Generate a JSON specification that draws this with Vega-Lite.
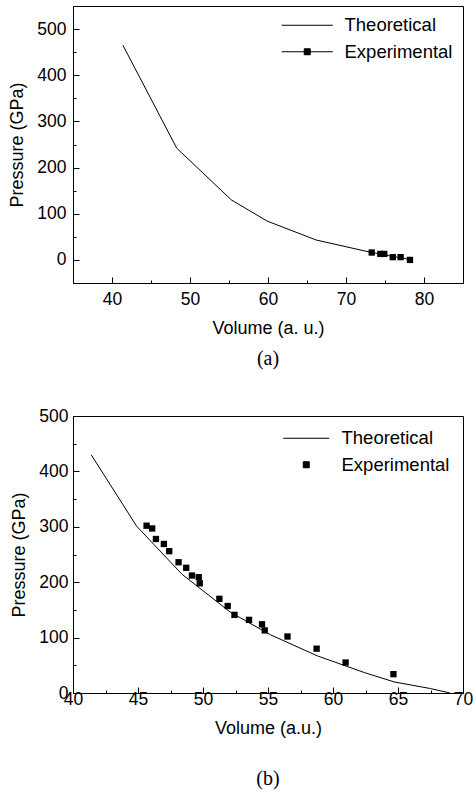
{
  "$schema": "https://vega.github.io/schema/vega-lite/v6.json",
  "padding": {"left": 8, "top": 5, "right": 5, "bottom": 5},
  "spacing": 37,
  "config": {
    "font": "Liberation Sans",
    "view": {"stroke": "black", "strokeWidth": 1},
    "axis": {
      "grid": false,
      "domainColor": "black",
      "tickColor": "black",
      "labelColor": "black",
      "titleColor": "black",
      "labelFont": "Liberation Sans",
      "titleFont": "Liberation Sans",
      "labelFontSize": 17.5,
      "titleFontSize": 18,
      "titleFontWeight": "normal",
      "labelFlush": false,
      "labelOverlap": false,
      "tickWidth": 1
    },
    "legend": {
      "labelFont": "Liberation Sans",
      "labelFontSize": 18.5,
      "labelColor": "black",
      "title": null
    }
  },
  "resolve": {"scale": {"color": "independent"}, "legend": {"color": "independent"}},
  "datasets": {
    "a": [
      {"volume": 41.4, "pressure": 465, "series": "Theoretical"},
      {"volume": 48.3, "pressure": 242, "series": "Theoretical"},
      {"volume": 55.3, "pressure": 130, "series": "Theoretical"},
      {"volume": 59.9, "pressure": 84, "series": "Theoretical"},
      {"volume": 66.2, "pressure": 43, "series": "Theoretical"},
      {"volume": 73.3, "pressure": 16, "series": "Theoretical"},
      {"volume": 73.3, "pressure": 16, "series": "Experimental"},
      {"volume": 74.4, "pressure": 13, "series": "Experimental"},
      {"volume": 74.9, "pressure": 13, "series": "Experimental"},
      {"volume": 76.0, "pressure": 6, "series": "Experimental"},
      {"volume": 77.0, "pressure": 6, "series": "Experimental"},
      {"volume": 78.2, "pressure": 0, "series": "Experimental"}
    ],
    "b": [
      {"volume": 41.4, "pressure": 430, "series": "Theoretical"},
      {"volume": 44.9, "pressure": 301, "series": "Theoretical"},
      {"volume": 48.4, "pressure": 214, "series": "Theoretical"},
      {"volume": 52.1, "pressure": 146, "series": "Theoretical"},
      {"volume": 55.2, "pressure": 105, "series": "Theoretical"},
      {"volume": 58.8, "pressure": 67, "series": "Theoretical"},
      {"volume": 62.4, "pressure": 37, "series": "Theoretical"},
      {"volume": 64.7, "pressure": 20, "series": "Theoretical"},
      {"volume": 67.5, "pressure": 8, "series": "Theoretical"},
      {"volume": 69.0, "pressure": 0, "series": "Theoretical"},
      {"volume": 45.66, "pressure": 302, "series": "Experimental"},
      {"volume": 46.09, "pressure": 297, "series": "Experimental"},
      {"volume": 46.38, "pressure": 278, "series": "Experimental"},
      {"volume": 46.99, "pressure": 269, "series": "Experimental"},
      {"volume": 47.40, "pressure": 256, "series": "Experimental"},
      {"volume": 48.12, "pressure": 236, "series": "Experimental"},
      {"volume": 48.71, "pressure": 226, "series": "Experimental"},
      {"volume": 49.15, "pressure": 212, "series": "Experimental"},
      {"volume": 49.67, "pressure": 209, "series": "Experimental"},
      {"volume": 49.75, "pressure": 198, "series": "Experimental"},
      {"volume": 51.26, "pressure": 170, "series": "Experimental"},
      {"volume": 51.90, "pressure": 157, "series": "Experimental"},
      {"volume": 52.42, "pressure": 141, "series": "Experimental"},
      {"volume": 53.54, "pressure": 132, "series": "Experimental"},
      {"volume": 54.54, "pressure": 124, "series": "Experimental"},
      {"volume": 54.75, "pressure": 113, "series": "Experimental"},
      {"volume": 56.50, "pressure": 102, "series": "Experimental"},
      {"volume": 58.74, "pressure": 80, "series": "Experimental"},
      {"volume": 60.97, "pressure": 55, "series": "Experimental"},
      {"volume": 64.65, "pressure": 34, "series": "Experimental"}
    ]
  },
  "vconcat": [
    {
      "width": 390,
      "height": 277,
      "title": {"text": "(a)", "orient": "bottom", "anchor": "middle", "font": "Liberation Serif", "fontSize": 20, "fontWeight": "normal", "color": "black", "offset": 11},
      "data": {"name": "a"},
      "encoding": {
        "x": {
          "field": "volume", "type": "quantitative",
          "scale": {"domain": [35, 85], "nice": false, "zero": false},
          "axis": {
            "title": "Volume (a. u.)",
            "values": [35, 40, 45, 50, 55, 60, 65, 70, 75, 80, 85],
            "labelExpr": "datum.value % 10 === 0 ? datum.label : ''",
            "tickSize": {"condition": {"test": "datum.value % 10 !== 0", "value": -3}, "value": -6},
            "labelPadding": 13,
            "titlePadding": 9
          }
        },
        "y": {
          "field": "pressure", "type": "quantitative",
          "scale": {"domain": [-50, 550], "nice": false, "zero": false},
          "axis": {
            "title": "Pressure (GPa)",
            "values": [0, 50, 100, 150, 200, 250, 300, 350, 400, 450, 500],
            "labelExpr": "datum.value % 100 === 0 ? datum.label : ''",
            "tickSize": {"condition": {"test": "datum.value % 100 !== 0", "value": -3}, "value": -6},
            "labelPadding": 13,
            "titlePadding": 10
          }
        }
      },
      "layer": [
        {
          "mark": {"type": "line", "strokeWidth": 1},
          "encoding": {
            "color": {
              "field": "series", "type": "nominal",
              "scale": {"domain": ["Theoretical", "Experimental"], "range": ["black", "black"]},
              "legend": {
                "orient": "top-right",
                "offset": 10,
                "symbolSize": 64,
                "labelOffset": 28,
                "rowPadding": 7.5,
                "encode": {
                  "symbols": {
                    "update": {
                      "shape": {"signal": "datum.value === 'Experimental' ? 'M-6.4,0H6.4M-0.75,-0.75H0.75V0.75H-0.75Z' : 'M-6.4,0H6.4'"},
                      "fill": {"value": "black"},
                      "stroke": {"value": "black"},
                      "strokeWidth": {"value": 1},
                      "opacity": {"value": 1}
                    }
                  }
                }
              }
            }
          }
        },
        {
          "transform": [{"filter": "datum.series === 'Experimental'"}],
          "mark": {"type": "point", "shape": "square", "filled": true, "size": 40, "color": "black", "opacity": 1, "strokeWidth": 0}
        }
      ]
    },
    {
      "width": 390,
      "height": 277,
      "title": {"text": "(b)", "orient": "bottom", "anchor": "middle", "font": "Liberation Serif", "fontSize": 20, "fontWeight": "normal", "color": "black", "offset": 31},
      "data": {"name": "b"},
      "encoding": {
        "x": {
          "field": "volume", "type": "quantitative",
          "scale": {"domain": [40, 70], "nice": false, "zero": false},
          "axis": {
            "title": "Volume (a.u.)",
            "values": [40, 42.5, 45, 47.5, 50, 52.5, 55, 57.5, 60, 62.5, 65, 67.5, 70],
            "labelExpr": "datum.value % 5 === 0 ? datum.label : ''",
            "tickSize": {"condition": {"test": "datum.value % 5 !== 0", "value": -3}, "value": -6},
            "labelPadding": 3,
            "titlePadding": 9
          }
        },
        "y": {
          "field": "pressure", "type": "quantitative",
          "scale": {"domain": [0, 500], "nice": false, "zero": false},
          "axis": {
            "title": "Pressure (GPa)",
            "values": [0, 50, 100, 150, 200, 250, 300, 350, 400, 450, 500],
            "labelExpr": "datum.value % 100 === 0 ? datum.label : ''",
            "tickSize": {"condition": {"test": "datum.value % 100 !== 0", "value": -3}, "value": -6},
            "labelPadding": 11,
            "titlePadding": 10
          }
        }
      },
      "layer": [
        {
          "transform": [{"filter": "datum.series === 'Theoretical'"}],
          "mark": {"type": "line", "strokeWidth": 1},
          "encoding": {
            "color": {
              "field": "series", "type": "nominal",
              "scale": {"domain": ["Theoretical", "Experimental"], "range": ["black", "black"]},
              "legend": {
                "orient": "top-right",
                "offset": 13,
                "symbolSize": 64,
                "labelOffset": 26,
                "rowPadding": 7.5,
                "encode": {
                  "symbols": {
                    "update": {
                      "shape": {"signal": "datum.value === 'Experimental' ? 'M-0.75,-0.75H0.75V0.75H-0.75Z' : 'M-5.75,0H5.75'"},
                      "fill": {"value": "black"},
                      "stroke": {"value": "black"},
                      "strokeWidth": {"value": 1},
                      "opacity": {"value": 1}
                    }
                  }
                }
              }
            }
          }
        },
        {
          "transform": [{"filter": "datum.series === 'Experimental'"}],
          "mark": {"type": "point", "shape": "square", "filled": true, "size": 40, "color": "black", "opacity": 1, "strokeWidth": 0}
        }
      ]
    }
  ]
}
